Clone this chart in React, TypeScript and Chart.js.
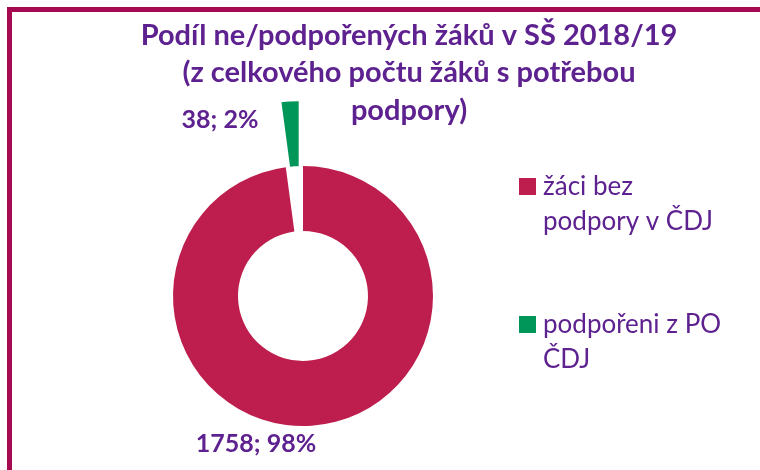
import React, { useEffect, useRef } from "react";
import { Chart, registerables } from "chart.js";

Chart.register(...registerables);

const TITLE_LINES = [
  "Podíl ne/podpořených žáků v SŠ 2018/19",
  "(z celkového počtu žáků s potřebou",
  "podpory)",
];
const CATEGORIES = [
  ["žáci bez", "podpory v ČDJ"],
  ["podpořeni z PO", "ČDJ"],
];
const VALUES = [1758, 38];
const COLORS = ["#BE1E4D", "#00965A"];
// explosion of each slice, in pixels
const EXPLODE = [0, 65];

const TEXT_COLOR = "#5E2290";
const FONT = "Lato, 'Open Sans', sans-serif";

const explodePlugin = {
  id: "explode",
  afterUpdate(chart: any) {
    const meta = chart.getDatasetMeta(0);
    meta.data.forEach((arc: any, i: number) => {
      const d = EXPLODE[i] || 0;
      if (!d) return;
      const mid = (arc.startAngle + arc.endAngle) / 2;
      arc.x += Math.cos(mid) * d;
      arc.y += Math.sin(mid) * d;
    });
  },
};

const overlayPlugin = {
  id: "overlay",
  afterDraw(chart: any) {
    const ctx = chart.ctx as CanvasRenderingContext2D;
    const ca = chart.chartArea;
    const cx = (ca.left + ca.right) / 2;
    const cy = (ca.top + ca.bottom) / 2;
    ctx.save();
    ctx.fillStyle = TEXT_COLOR;
    ctx.textBaseline = "alphabetic";

    // Title
    ctx.font = `bold 29px ${FONT}`;
    ctx.textAlign = "center";
    const titleBaselines = [45, 82, 120];
    TITLE_LINES.forEach((line, i) => ctx.fillText(line, 409, titleBaselines[i]));

    // Data labels
    const meta = chart.getDatasetMeta(0);
    const ds = chart.data.datasets[0];
    const vals = ds.data as number[];
    const total = vals.reduce((a, b) => a + b, 0);
    const labelOffsets = [
      { dx: -47, dy: 156 },
      { dx: -83, dy: -168 },
    ];
    ctx.font = `bold 25px ${FONT}`;
    meta.data.forEach((_arc: any, i: number) => {
      const v = vals[i];
      const txt = `${v}; ${Math.round((v / total) * 100)}%`;
      ctx.fillText(txt, cx + labelOffsets[i].dx, cy + labelOffsets[i].dy);
    });

    // Legend
    ctx.textAlign = "left";
    ctx.font = `26px ${FONT}`;
    const legendTops = [195, 333];
    const lineH = 35;
    CATEGORIES.forEach((lines, i) => {
      const base = legendTops[i];
      ctx.fillStyle = (ds.backgroundColor as string[])[i];
      ctx.fillRect(519, base - 17, 17, 17);
      ctx.fillStyle = TEXT_COLOR;
      lines.forEach((ln, j) => ctx.fillText(ln, 543, base + j * lineH));
    });
    ctx.restore();
  },
};

export default function App() {
  const ref = useRef<HTMLCanvasElement>(null);
  useEffect(() => {
    if (!ref.current) return;
    const chart = new Chart(ref.current, {
      type: "doughnut",
      data: {
        labels: CATEGORIES.map((l) => l.join(" ")),
        datasets: [
          {
            data: VALUES,
            backgroundColor: COLORS,
            borderWidth: 0,
            hoverOffset: 0,
          },
        ],
      },
      options: {
        responsive: false,
        animation: false,
        radius: 130,
        cutout: "50%",
        layout: { padding: { left: 0, right: 154, top: 122, bottom: 0 } },
        plugins: {
          legend: { display: false },
          title: { display: false },
          tooltip: { enabled: false },
        },
        events: [],
      },
      plugins: [explodePlugin, overlayPlugin],
    });
    return () => chart.destroy();
  }, []);
  return (
    <div
      style={{
        position: "absolute",
        left: 0,
        top: 0,
        width: 760,
        height: 470,
        overflow: "hidden",
        background: "#fff",
      }}
    >
      <div
        style={{
          position: "absolute",
          left: 7,
          top: 7,
          width: 820,
          height: 520,
          borderTop: "5px solid #A50A50",
          borderLeft: "5px solid #A50A50",
          boxSizing: "border-box",
        }}
      />
      <canvas
        ref={ref}
        width={760}
        height={470}
        style={{ position: "absolute", left: 0, top: 0 }}
      />
    </div>
  );
}
